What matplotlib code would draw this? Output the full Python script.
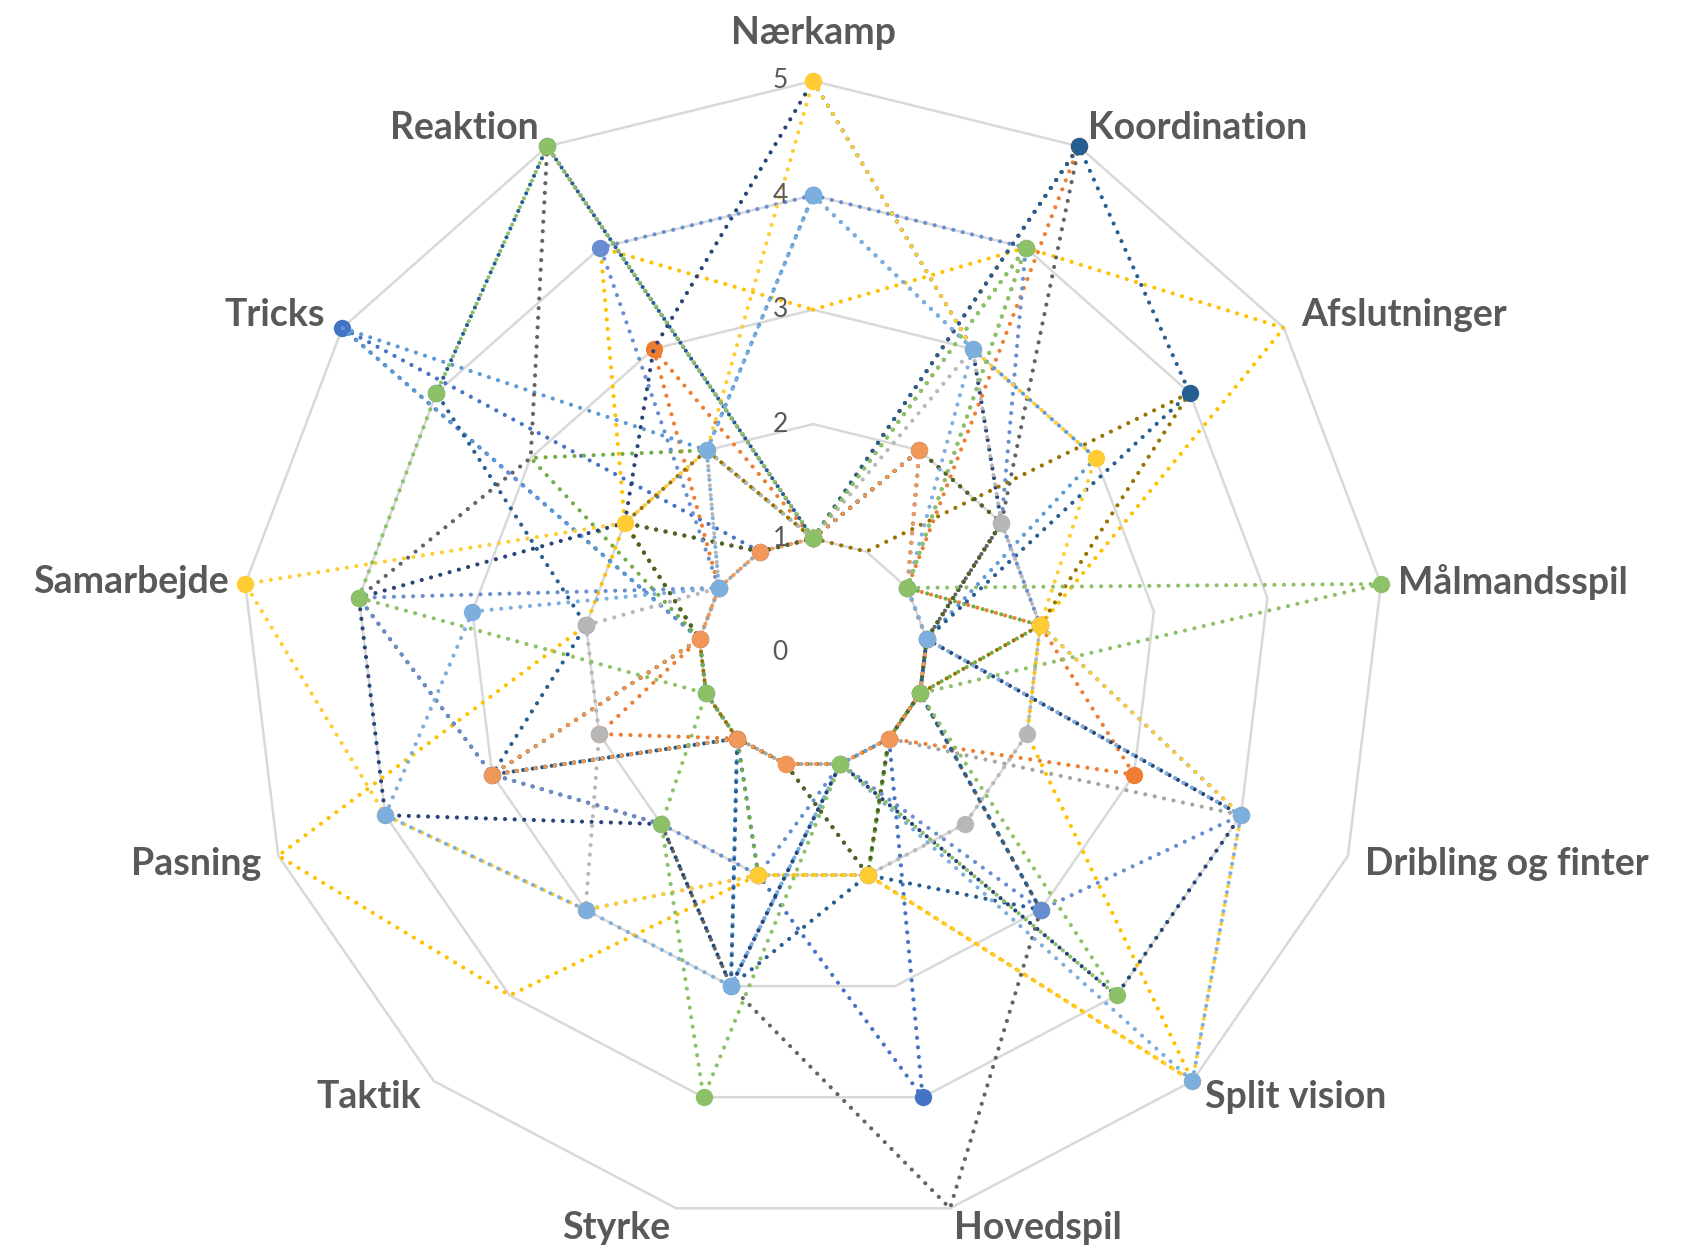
import numpy as np
import matplotlib
matplotlib.use("Agg")
import matplotlib.pyplot as plt

categories = ["Nærkamp", "Koordination", "Afslutninger", "Målmandsspil",
              "Dribling og finter", "Split vision", "Hovedspil", "Styrke",
              "Taktik", "Pasning", "Samarbejde", "Tricks", "Reaktion"]

# one list per player (Excel series order), values 0-5 per category
serie_01 = [1, 2, 1, 1, 1, 1, 4, 2, 1, 1, 1, 5, 1]
serie_02 = [1, 5, 1, 2, 3, 1, 1, 1, 1, 2, 1, 1, 3]
serie_03 = [1, 2, 1, 1, 4, 1, 1, 1, 1, 1, 1, 1, 1]
serie_04 = [3, 4, 5, 2, 2, 5, 2, 2, 4, 5, 2, 2, 4]
serie_05 = [4, 3, 3, 1, 1, 1, 1, 3, 1, 1, 1, 5, 2]
serie_06 = [1, 4, 1, 2, 1, 1, 2, 2, 1, 1, 1, 3, 2]
serie_07 = [5, 3, 2, 1, 4, 4, 1, 3, 2, 4, 4, 2, 3]
serie_08 = [1, 2, 2, 1, 1, 1, 2, 1, 1, 3, 1, 2, 1]
serie_09 = [1, 5, 2, 1, 1, 3, 5, 3, 2, 3, 4, 3, 5]
serie_10 = [1, 1, 4, 2, 1, 1, 1, 1, 1, 1, 1, 2, 2]
serie_11 = [1, 5, 4, 1, 1, 3, 2, 3, 1, 3, 2, 4, 5]
serie_12 = [1, 2, 2, 1, 1, 1, 2, 1, 1, 3, 1, 2, 1]
serie_13 = [4, 4, 2, 2, 4, 3, 1, 2, 2, 3, 4, 1, 4]
serie_14 = [1, 2, 1, 1, 1, 1, 1, 1, 1, 3, 1, 1, 1]
serie_15 = [1, 3, 2, 2, 2, 2, 2, 2, 3, 2, 2, 1, 2]
serie_16 = [5, 3, 3, 2, 4, 5, 2, 2, 3, 4, 5, 2, 2]
serie_17 = [4, 3, 1, 1, 4, 5, 1, 3, 3, 4, 3, 1, 2]
serie_18 = [1, 4, 1, 5, 1, 4, 1, 4, 2, 1, 4, 4, 5]

series = [serie_01, serie_02, serie_03, serie_04, serie_05, serie_06,
          serie_07, serie_08, serie_09, serie_10, serie_11, serie_12,
          serie_13, serie_14, serie_15, serie_16, serie_17, serie_18]

colors = ["#4472C4", "#ED7D31", "#A5A5A5", "#FFC000", "#5B9BD5", "#70AD47",
          "#264478", "#9E480E", "#636363", "#997300", "#255E91", "#43682B",
          "#698ED0", "#F1975A", "#B7B7B7", "#FFCD33", "#7CAFDD", "#8CC168"]
has_marker = [True, True, False, False, False, False, False, False, False,
              False, True, False, True, True, True, True, True, True]

ring_values = [1, 2, 3, 4, 5]
tick_labels = ["0", "1", "2", "3", "4", "5"]

# label offsets from the outer vertex, in pixels
label_offsets = [(0, 48, "center"), (9, 18, "left"), (17, 13, "left"),
                 (17, 2, "left"), (17, -8, "left"), (13, -16, "left"),
                 (4, -20, "left"), (-6, -20, "right"), (-13, -16, "right"),
                 (-17, -8, "right"), (-17, 2, "right"), (-17, 13, "right"),
                 (-9, 18, "right")]

n = len(categories)
theta = np.arange(n) * 2 * np.pi / n
theta_closed = np.append(theta, theta[0])

fig = plt.figure(figsize=(17, 12.48), dpi=100)
ax = fig.add_axes([0.1418, 0.0185, 0.673, 0.9167], projection="polar")
ax.set_theta_zero_location("N")
ax.set_theta_direction(-1)
ax.set_ylim(0, 5)
ax.set_xticks([])
ax.set_yticks([])
ax.grid(False)
ax.spines["polar"].set_visible(False)
ax.patch.set_alpha(0)

for rv in ring_values:
    ax.plot(theta_closed, [rv] * (n + 1), color="#D9D9D9", lw=1.8,
            clip_on=False, zorder=0)

for vals, col, mk in zip(series, colors, has_marker):
    v = np.append(vals, vals[0])
    ax.plot(theta_closed, v, color=col, lw=3.0,
            linestyle=(0, (0.01, 2.3)), dash_capstyle="round",
            marker="o" if mk else None, markersize=12.5,
            markeredgewidth=0, clip_on=False)

for i, t in enumerate(tick_labels):
    ax.annotate(t, xy=(0, i), xytext=(-33, 0), textcoords="offset pixels",
                ha="center", va="center", fontsize=19, color="#595959",
                family=["Lato", "DejaVu Sans"])

for k, name in enumerate(categories):
    dx, dy, ha = label_offsets[k]
    ax.annotate(name, xy=(theta[k], 5), xytext=(dx, dy),
                textcoords="offset pixels", ha=ha, va="center",
                fontsize=27, color="#595959", fontweight="bold",
                family=["Lato", "DejaVu Sans"], annotation_clip=False)

fig.savefig("out.png", dpi=100, facecolor="white")
